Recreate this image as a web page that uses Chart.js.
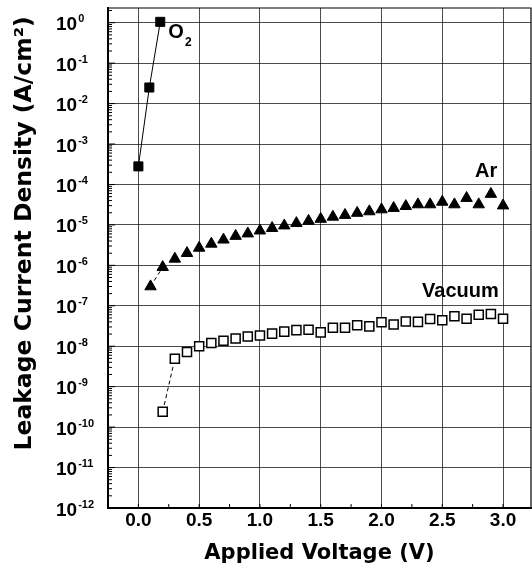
<!DOCTYPE html>
<html><head><meta charset="utf-8">
<script src="https://cdn.jsdelivr.net/npm/chart.js@4.4.1/dist/chart.umd.min.js"></script>
<style>html,body{margin:0;padding:0;background:#fff}canvas{display:block}</style>
</head><body>
<canvas id="c" width="532" height="578"></canvas>
<script>
// ---- data ----
const o2Voltage = [0.0, 0.09, 0.18];
const o2Current = [2.8e-4, 2.5e-2, 1.05];

const arVoltage = [0.1, 0.2, 0.3, 0.4, 0.5, 0.6, 0.7, 0.8, 0.9, 1.0,
                   1.1, 1.2, 1.3, 1.4, 1.5, 1.6, 1.7, 1.8, 1.9, 2.0,
                   2.1, 2.2, 2.3, 2.4, 2.5, 2.6, 2.7, 2.8, 2.9, 3.0];
const arCurrent = [3.0e-7, 9.0e-7, 1.45e-6, 2.0e-6, 2.7e-6, 3.4e-6, 4.3e-6, 5.3e-6, 6.1e-6, 7.2e-6,
                   8.3e-6, 9.6e-6, 1.1e-5, 1.25e-5, 1.4e-5, 1.58e-5, 1.75e-5, 1.97e-5, 2.15e-5, 2.4e-5,
                   2.6e-5, 2.9e-5, 3.2e-5, 3.2e-5, 3.7e-5, 3.2e-5, 4.6e-5, 3.2e-5, 5.8e-5, 3.0e-5];

const vacVoltage = [0.2, 0.3, 0.4, 0.5, 0.6, 0.7, 0.8, 0.9, 1.0,
                    1.1, 1.2, 1.3, 1.4, 1.5, 1.6, 1.7, 1.8, 1.9, 2.0,
                    2.1, 2.2, 2.3, 2.4, 2.5, 2.6, 2.7, 2.8, 2.9, 3.0];
const vacCurrent = [2.4e-10, 4.9e-9, 7.2e-9, 1.0e-8, 1.2e-8, 1.37e-8, 1.55e-8, 1.75e-8, 1.85e-8,
                    2.05e-8, 2.3e-8, 2.5e-8, 2.55e-8, 2.2e-8, 2.85e-8, 2.85e-8, 3.3e-8, 3.1e-8, 3.9e-8,
                    3.45e-8, 4.1e-8, 4.0e-8, 4.7e-8, 4.4e-8, 5.5e-8, 4.8e-8, 6.0e-8, 6.3e-8, 4.8e-8];

const xTickValues = [0.0, 0.5, 1.0, 1.5, 2.0, 2.5, 3.0];
const xTickLabels = ['0.0', '0.5', '1.0', '1.5', '2.0', '2.5', '3.0'];
const yTickExponents = [-12, -11, -10, -9, -8, -7, -6, -5, -4, -3, -2, -1, 0];
const seriesNames = ['O2', 'Ar', 'Vacuum'];

// in-plot series labels (anchor in data units: left edge, baseline)
const seriesLabels = [
  {text: 'O', sub: '2', x: 0.2465, y: 0.41},
  {text: 'Ar', x: 2.769, y: 1.55e-4},
  {text: 'Vacuum', x: 2.334, y: 1.69e-7}
];

const toPoints = (xs, ys) => xs.map((v, i) => ({x: v, y: ys[i]}));
const firstSegmentOnly = {
  borderColor: c => c.p0DataIndex === 0 ? '#000' : 'rgba(0,0,0,0)'
};

const ARIAL = '"Liberation Sans", Arial, sans-serif';
const DEJAVU = '"DejaVu Sans", sans-serif';

const decor = {
  id: 'decor',
  afterDraw(chart) {
    const {ctx, chartArea: a, scales: {x, y}} = chart;
    ctx.save();
    ctx.strokeStyle = '#000';
    ctx.lineWidth = 1.2;
    ctx.beginPath();
    ctx.moveTo(a.left, a.top); ctx.lineTo(a.right, a.top); ctx.lineTo(a.right, a.bottom);
    ctx.stroke();
    // inward minor / major ticks on left axis
    ctx.lineWidth = 1;
    ctx.beginPath();
    for (const e of yTickExponents) {
      const p = y.getPixelForValue(Math.pow(10, e));
      ctx.moveTo(a.left, p); ctx.lineTo(a.left + 7, p);
      for (let m = 2; m <= 9; m++) {
        const v = m * Math.pow(10, e);
        if (v > y.max) break;
        const pm = y.getPixelForValue(v);
        ctx.moveTo(a.left, pm); ctx.lineTo(a.left + 4, pm);
      }
    }
    // inward minor ticks on bottom axis
    for (let v = x.min; v <= x.max + 1e-9; v += 0.25) {
      const px = x.getPixelForValue(v);
      ctx.moveTo(px, a.bottom); ctx.lineTo(px, a.bottom - 4);
    }
    ctx.stroke();
    // y tick labels: 10 with superscript exponent
    ctx.fillStyle = '#000';
    ctx.textAlign = 'left';
    ctx.textBaseline = 'alphabetic';
    for (const e of yTickExponents) {
      const p = y.getPixelForValue(Math.pow(10, e));
      ctx.font = 'bold 19px ' + ARIAL;
      ctx.fillText('10', 56, p + 7.5);
      const w = ctx.measureText('10').width;
      ctx.font = 'bold 11px ' + ARIAL;
      ctx.fillText(String(e), 56 + w + 1, p - 0.5);
    }
    // series labels
    for (const l of seriesLabels) {
      const px = x.getPixelForValue(l.x), py = y.getPixelForValue(l.y);
      ctx.font = 'bold 20px ' + ARIAL;
      ctx.fillText(l.text, px, py);
      if (l.sub) {
        const w = ctx.measureText(l.text).width;
        ctx.font = 'bold 12px ' + ARIAL;
        ctx.fillText(l.sub, px + w + 1, py + 7.5);
      }
    }
    ctx.restore();
  }
};

new Chart(document.getElementById('c'), {
  type: 'scatter',
  data: {
    datasets: [
      {label: seriesNames[0], data: toPoints(o2Voltage, o2Current), showLine: true,
       borderColor: '#000', borderWidth: 1, pointStyle: 'rect', pointRadius: 6.4,
       pointBackgroundColor: '#000', pointBorderColor: '#000', pointBorderWidth: 1},
      {label: seriesNames[1], data: toPoints(arVoltage, arCurrent), showLine: true,
       borderColor: '#000', borderWidth: 1, borderDash: [4, 3], segment: firstSegmentOnly,
       pointStyle: 'triangle', pointRadius: 6.6,
       pointBackgroundColor: '#000', pointBorderColor: '#000', pointBorderWidth: 1},
      {label: seriesNames[2], data: toPoints(vacVoltage, vacCurrent), showLine: true,
       borderColor: '#000', borderWidth: 1, borderDash: [4, 3], segment: firstSegmentOnly,
       pointStyle: 'rect', pointRadius: 6.4,
       pointBackgroundColor: '#fff', pointBorderColor: '#000', pointBorderWidth: 1.5}
    ]
  },
  options: {
    responsive: false,
    animation: false,
    layout: {autoPadding: false, padding: {top: 8, right: 1, left: 0, bottom: 0}},
    plugins: {legend: {display: false}, tooltip: {enabled: false}},
    scales: {
      x: {
        type: 'linear', min: -0.25, max: 3.23,
        afterBuildTicks: s => { s.ticks = xTickValues.map(v => ({value: v})); },
        afterFit: s => { s.height = 70; },
        ticks: {
          callback: (v) => { const i = xTickValues.indexOf(v); return i >= 0 ? xTickLabels[i] : ''; },
          color: '#000', padding: 1, maxRotation: 0, autoSkip: false,
          font: {family: ARIAL, size: 19, weight: 'bold'}
        },
        grid: {color: 'rgba(0,0,0,0.7)', lineWidth: 1, drawTicks: false},
        border: {color: '#000', width: 2},
        title: {display: true, text: 'Applied Voltage (V)', color: '#000',
                font: {family: DEJAVU, size: 21, weight: 'bold'}, padding: {top: 0, bottom: 12}}
      },
      y: {
        type: 'logarithmic', min: 1e-12, max: 2.31,
        afterBuildTicks: s => { s.ticks = yTickExponents.map(e => ({value: Math.pow(10, e)})); },
        afterFit: s => { s.width = 108; },
        ticks: {display: false},
        grid: {color: c => (c.tick && c.tick.value <= 1.0001e-12) ? 'rgba(0,0,0,0)' : 'rgba(0,0,0,0.7)',
               lineWidth: 1, drawTicks: false},
        border: {color: '#000', width: 2},
        title: {display: true, text: 'Leakage Current Density (A/cm²) ', align: 'end', color: '#000',
                font: {family: DEJAVU, size: 23.5, weight: 'bold'}, padding: {top: 11, bottom: 0}}
      }
    }
  },
  plugins: [decor]
});
</script>
</body></html>
